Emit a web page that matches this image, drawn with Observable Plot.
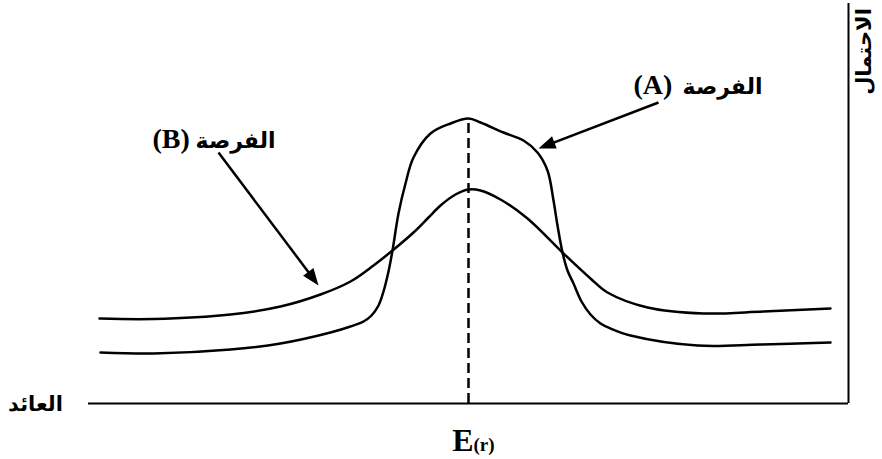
<!DOCTYPE html>
<html>
<head>
<meta charset="utf-8">
<script src="https://cdn.jsdelivr.net/npm/d3@7"></script>
<script src="https://cdn.jsdelivr.net/npm/@observablehq/plot@0.6"></script>
<style>
  html, body { margin: 0; padding: 0; background: #fff; }
</style>
</head>
<body>
<div id="chart"></div>
<script>
// Opportunity A (narrow, tall distribution)
const curveAReturn = [-368, -315, -238, -188, -138, -118, -105, -97, -90, -85, -80, -76, -70, -63, -55, -38, -18, 0, 12, 35, 55, 69, 79, 85, 89, 94, 99, 105, 113, 122, 132, 142, 162, 229, 292, 362];
const curveAProb   = [51, 50, 54, 60, 71, 77, 82, 88, 98, 112, 132, 153, 190, 220, 246, 270, 280, 285, 281, 271, 263, 251, 233, 203, 178, 151, 133, 120, 102, 89, 80, 75, 68, 58, 59, 61];

// Opportunity B (wide, flat distribution)
const curveBReturn = [-369, -315, -238, -188, -148, -118, -95, -76, -55, -40, -28, -13, 0, 12, 32, 59, 94, 122, 139, 179, 235, 295, 362];
const curveBProb   = [85, 84.5, 89, 97, 109, 122, 138, 153, 171, 186, 198, 209, 214, 213, 204, 185, 151, 125, 111, 96, 90, 92, 95];

const expectedReturn = 0;
const peakProb = 283;

// Axis extents
const axisReturnMin = -380, axisReturnMax = 380;
const axisProbMin = 0, axisProbMax = 400;

// Annotation arrows
const arrowNames  = ["A", "B"];
const arrowStartX = [190, -250];
const arrowStartY = [301, 251];
const arrowTipX   = [70, -150];
const arrowTipY   = [255, 118];

// Text labels
const labelOpportunity = "الفرصة";
const labelLatin = ["(A)", "(B)"];
const labelLatinX = [165, -316];
const labelArabicX = [254, -233];
const labelY = [310, 256];
const labelReturn = "العائد";
const labelProb = "الاحتمال";
const labelE = "E";
const labelEsub = "(r)";

const curveA = curveAReturn.map((x, i) => ({x, y: curveAProb[i]}));
const curveB = curveBReturn.map((x, i) => ({x, y: curveBProb[i]}));

const arrows = arrowNames.map((n, i) => {
  const x1 = arrowStartX[i], y1 = arrowStartY[i], x2 = arrowTipX[i], y2 = arrowTipY[i];
  const dx = x2 - x1, dy = y2 - y1, len = Math.hypot(dx, dy);
  const back = 10;
  return {
    n, x1, y1, x2, y2,
    xe: x2 - dx / len * back, ye: y2 - dy / len * back,
    angle: Math.atan2(dx, dy) * 180 / Math.PI
  };
});

const labels = labelLatin.map((t, i) => ({t, x: labelLatinX[i], xa: labelArabicX[i], y: labelY[i]}));

const latinFont = "'Liberation Serif', 'Times New Roman', serif";
const arabicFont = "'DejaVu Sans', sans-serif";

const chart = Plot.plot({
  width: 882,
  height: 459,
  marginLeft: 88,
  marginRight: 34,
  marginTop: 5,
  marginBottom: 56,
  style: { background: "#fff", overflow: "visible" },
  x: { axis: null, domain: [axisReturnMin, axisReturnMax] },
  y: { axis: null, domain: [0, 398] },
  marks: [
    // axes
    Plot.ruleY([axisProbMin], { x1: axisReturnMin, x2: axisReturnMax, stroke: "black", strokeWidth: 2 }),
    Plot.ruleX([axisReturnMax], { y1: axisProbMin, y2: axisProbMax, stroke: "black", strokeWidth: 2 }),
    // expected return dashed line
    Plot.ruleX([expectedReturn], { y1: axisProbMin, y2: peakProb, stroke: "black", strokeWidth: 2.5, strokeDasharray: "10,5" }),
    // curves
    Plot.line(curveA, { x: "x", y: "y", curve: "catmull-rom", stroke: "black", strokeWidth: 2.5 }),
    Plot.line(curveB, { x: "x", y: "y", curve: "catmull-rom", stroke: "black", strokeWidth: 2.5 }),
    // arrows
    Plot.link(arrows, { x1: "x1", y1: "y1", x2: "xe", y2: "ye", stroke: "black", strokeWidth: 2.5 }),
    Plot.vector(arrows, { x: "x2", y: "y2", rotate: "angle", length: 17, r: 6.5, shape: "spike", anchor: "end", fill: "black", fillOpacity: 1, stroke: "none" }),
    // labels
    Plot.text(labels, { x: "x", y: "y", text: "t", textAnchor: "start", lineAnchor: "bottom", fontFamily: latinFont, fontWeight: "bold", fontSize: 28, fill: "black" }),
    Plot.text(labels, { x: "xa", y: "y", text: () => labelOpportunity, textAnchor: "middle", lineAnchor: "bottom", fontFamily: arabicFont, fontWeight: "bold", fontSize: 22, fill: "black" }),
    Plot.text([labelReturn], { x: -433, y: -7, text: d => d, textAnchor: "middle", lineAnchor: "bottom", fontFamily: arabicFont, fontWeight: "bold", fontSize: 21, fill: "black" }),
    Plot.text([labelProb], { x: 396, y: 352, text: d => d, rotate: -90, textAnchor: "middle", lineAnchor: "middle", fontFamily: arabicFont, fontWeight: "bold", fontSize: 21, fill: "black" }),
    Plot.text([labelE], { x: 5, y: -47, text: d => d, textAnchor: "end", lineAnchor: "bottom", fontFamily: latinFont, fontWeight: "bold", fontSize: 32, fill: "black" }),
    Plot.text([labelEsub], { x: 5, y: -47, text: d => d, textAnchor: "start", lineAnchor: "bottom", fontFamily: latinFont, fontWeight: "bold", fontSize: 19, fill: "black" })
  ]
});
document.getElementById("chart").appendChild(chart);
</script>
</body>
</html>
